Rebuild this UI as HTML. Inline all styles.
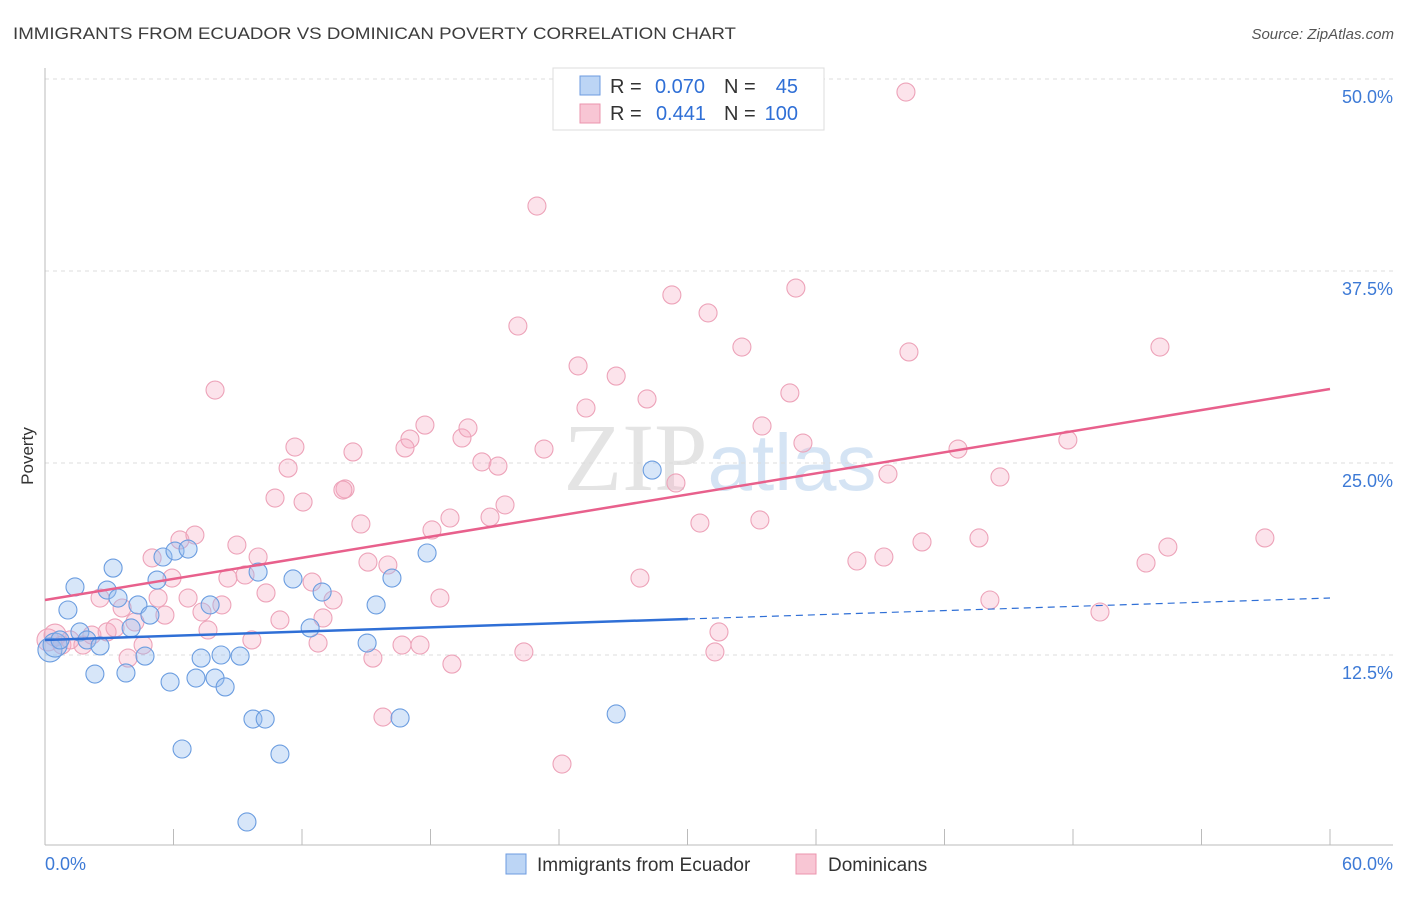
<!DOCTYPE html>
<html><head><meta charset="utf-8"><style>
body{margin:0;background:#fff;font-family:"Liberation Sans",sans-serif}
</style></head><body>
<svg id="chart" width="1406" height="892" xmlns="http://www.w3.org/2000/svg" font-family="Liberation Sans, sans-serif">
<text x="13" y="39" font-size="17" fill="#3c3c3c" textLength="723" lengthAdjust="spacingAndGlyphs">IMMIGRANTS FROM ECUADOR VS DOMINICAN POVERTY CORRELATION CHART</text>
<text x="1394" y="39" font-size="15" fill="#555" text-anchor="end" font-style="italic">Source: ZipAtlas.com</text>
<text x="720" y="490" font-size="96" text-anchor="middle" fill="#e4e4e4" font-family="Liberation Serif, serif">ZIP<tspan fill="#d5e4f4" font-family="Liberation Sans, sans-serif" font-size="80">atlas</tspan></text>
<g id="grid"></g><g id="axes"></g><g id="pts"></g><g id="lines"></g>
<text transform="translate(33,456) rotate(-90)" font-size="17" fill="#333" text-anchor="middle">Poverty</text>
<g>
<rect x="553" y="68" width="271" height="62" fill="#fff" stroke="#ddd"/>
<rect x="580" y="76" width="20" height="19" fill="#bcd5f5" stroke="#6d9be0"/>
<rect x="580" y="104" width="20" height="19" fill="#f8c6d4" stroke="#eb94ae"/>
<text x="610" y="93" font-size="20" fill="#333">R =</text>
<text x="705" y="93" font-size="20" fill="#2f6fd6" text-anchor="end">0.070</text>
<text x="724" y="93" font-size="20" fill="#333">N =</text>
<text x="798" y="93" font-size="20" fill="#2f6fd6" text-anchor="end">45</text>
<text x="610" y="120" font-size="20" fill="#333">R =</text>
<text x="706" y="120" font-size="20" fill="#2f6fd6" text-anchor="end">0.441</text>
<text x="724" y="120" font-size="20" fill="#333">N =</text>
<text x="798" y="120" font-size="20" fill="#2f6fd6" text-anchor="end">100</text>
</g>
<g>
<rect x="506" y="854" width="20" height="20" fill="#bcd5f5" stroke="#6d9be0"/>
<text x="537" y="871" font-size="19" fill="#333">Immigrants from Ecuador</text>
<rect x="796" y="854" width="20" height="20" fill="#f8c6d4" stroke="#eb94ae"/>
<text x="828" y="871" font-size="19" fill="#333">Dominicans</text>
</g>
</svg>
<script>
const yTicks=[12.5,25,37.5,50];
const yTickLabels=["12.5%","25.0%","37.5%","50.0%"];
const xTicks=[0,6,12,18,24,30,36,42,48,54,60];
const blueX=[0.23,0.47,0.70,1.40,1.07,1.63,1.96,2.33,2.57,2.90,3.18,3.41,3.78,4.02,4.34,4.67,4.90,5.23,5.51,5.84,6.07,6.40,6.68,7.05,7.29,7.71,7.94,8.22,8.41,9.11,9.71,9.95,10.28,10.97,11.58,12.38,12.94,15.04,15.46,16.20,16.58,17.84,26.67,28.35,9.43];
const blueY=[12.83,13.15,13.48,16.93,15.43,14.00,13.48,11.26,13.09,16.73,18.16,16.21,11.33,14.26,15.76,12.43,15.10,17.38,18.88,10.74,19.27,6.38,19.40,11.00,12.30,15.76,11.00,12.50,10.42,12.43,8.33,17.90,8.33,6.05,17.45,14.26,16.60,13.28,15.76,17.51,8.40,19.14,8.66,24.54,1.63];
const pinkX=[0.14,0.47,0.79,1.17,1.77,2.19,2.57,2.90,3.27,3.60,3.88,4.20,4.58,5.00,5.28,5.60,5.93,6.30,6.68,7.00,7.33,7.61,7.94,8.26,8.54,8.96,9.34,9.66,9.95,10.32,10.74,10.97,11.35,11.67,12.05,12.47,12.75,12.98,13.45,14.01,14.38,14.75,15.08,15.31,15.78,16.01,16.67,17.04,17.51,17.74,18.07,18.44,18.91,19.00,19.47,19.75,20.40,20.78,21.15,21.48,22.08,22.36,22.97,23.30,24.14,24.89,25.26,26.67,27.78,28.11,29.27,29.46,30.58,30.96,31.28,31.47,32.54,33.38,33.48,34.78,35.06,35.39,37.91,39.17,39.36,40.20,40.34,40.95,42.63,43.61,44.12,44.59,47.76,49.26,51.41,52.06,52.43,56.96,16.81,13.91];
const pinkY=[13.48,13.80,13.15,13.48,13.15,13.80,16.21,14.00,14.26,15.56,12.30,14.65,13.15,18.82,16.21,15.10,17.51,19.99,16.21,20.31,15.30,14.13,29.75,15.76,17.51,19.66,17.71,13.48,18.88,16.54,22.72,14.78,24.67,26.04,22.46,17.25,13.28,14.91,16.08,23.31,25.72,21.03,18.55,12.30,8.46,18.36,13.15,26.56,13.15,27.47,20.64,16.21,21.42,11.91,26.63,27.28,25.07,21.48,24.80,22.27,33.92,12.70,41.73,25.91,5.40,31.32,28.58,30.66,17.51,29.17,35.94,23.70,21.09,34.77,12.70,14.00,32.55,21.29,27.41,29.56,36.39,26.30,18.62,18.88,24.28,49.15,32.23,19.86,25.91,20.12,16.08,24.09,26.50,15.30,18.49,32.55,19.53,20.12,25.98,23.24];
const blueTrend=[13.48,16.21];
const pinkTrend=[16.08,29.82];
const blueSolidEnd=30.02;
const NS="http://www.w3.org/2000/svg";
const X=v=>45+v/60*1285, Y=v=>847-v*15.36;
function mk(tag,attrs,parent){const e=document.createElementNS(NS,tag);for(const k in attrs)e.setAttribute(k,attrs[k]);parent.appendChild(e);return e;}
const grid=document.getElementById('grid'),axes=document.getElementById('axes'),pts=document.getElementById('pts'),lines=document.getElementById('lines');
yTicks.forEach((t,i)=>{
 const l=mk('line',{x1:45,x2:1393,y1:Y(t),y2:Y(t),stroke:'#dcdcdc','stroke-dasharray':'4,4'},grid);
 
 
 const tx=mk('text',{x:1393,y:Y(t)+24,'font-size':18,fill:'#3d7ad6','text-anchor':'end'},grid);
 tx.textContent=yTickLabels[i];
 
 
});
const ax=mk('line',{x1:45,x2:1393,y1:845,y2:845,stroke:'#bbb'},axes);


const ay=mk('line',{x1:45,x2:45,y1:68,y2:845,stroke:'#bbb'},axes);


xTicks.forEach(t=>{
 const l=mk('line',{x1:X(t),x2:X(t),y1:829,y2:845,stroke:'#bbb'},axes);
 
 
});
const xl0=mk('text',{x:45,y:870,'font-size':18,fill:'#3d7ad6'},axes);xl0.textContent='0.0%';


const xl1=mk('text',{x:1393,y:870,'font-size':18,fill:'#3d7ad6','text-anchor':'end'},axes);xl1.textContent='60.0%';


pinkX.forEach((x,i)=>{
 const c=mk('circle',{cx:X(x),cy:Y(pinkY[i]),r:i<2?11:9,fill:'rgba(245,170,195,0.33)',stroke:'#eda3b9','stroke-width':1.1},pts);
 
 
});
blueX.forEach((x,i)=>{
 const c=mk('circle',{cx:X(x),cy:Y(blueY[i]),r:i<2?12:9,fill:'rgba(150,190,240,0.38)',stroke:'#6b9de0','stroke-width':1.1},pts);
 
 
});
const by=x=>blueTrend[0]+(blueTrend[1]-blueTrend[0])*x/60;
const b1=mk('line',{x1:X(0),y1:Y(by(0)),x2:X(blueSolidEnd),y2:Y(by(blueSolidEnd)),stroke:'#2f6fd6','stroke-width':2.5},lines);


const b2=mk('line',{x1:X(blueSolidEnd),y1:Y(by(blueSolidEnd)),x2:X(60),y2:Y(by(60)),stroke:'#2f6fd6','stroke-width':1.2,'stroke-dasharray':'7,5'},lines);


const p1=mk('line',{x1:X(0),y1:Y(pinkTrend[0]),x2:X(60),y2:Y(pinkTrend[1]),stroke:'#e8608c','stroke-width':2.5},lines);


</script>
</body></html>
